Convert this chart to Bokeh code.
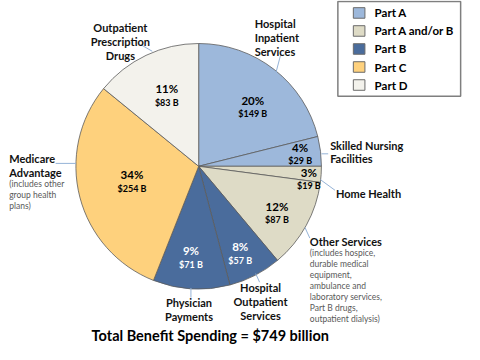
import math
from bokeh.plotting import figure
from bokeh.models import Range1d, ColumnDataSource
from bokeh.core.properties import value
from bokeh.embed import file_html
from bokeh.resources import INLINE

# ---------------- data ----------------
categories = ["Hospital Inpatient Services", "Skilled Nursing Facilities", "Home Health",
              "Other Services", "Hospital Outpatient Services", "Physician Payments",
              "Medicare Advantage", "Outpatient Prescription Drugs"]
spending_b = [149, 29, 19, 87, 57, 71, 254, 83]
pct_labels = ["20%", "4%", "3%", "12%", "8%", "9%", "34%", "11%"]
# share of the circle as drawn in the picture (percent)
slice_share = [21.1, 3.9, 2.1, 11.8, 7.0, 10.1, 29.9, 14.1]
slice_part = ["Part A", "Part A", "Part A and/or B", "Part A and/or B",
              "Part B", "Part B", "Part C", "Part D"]
parts = ["Part A", "Part A and/or B", "Part B", "Part C", "Part D"]
part_colors = ["#9DB8DB", "#DEDBC6", "#4A6C9C", "#FED17D", "#F3F2EC"]
total_b = 749

# ---------------- layout (reference pixel coords, y down) ----------------
Y0, Y1 = 2.0, 361.0
def Y(v):
    return 360.0 - v

CX, CY, R = 205.0, 175.0, 127.0
FONT = value("Lato")

p = figure(width=464, height=344, x_range=Range1d(0, 480), y_range=Range1d(Y(Y1), Y(Y0)),
           output_backend="svg", toolbar_location=None, min_border=0)
p.axis.visible = False
p.grid.visible = False
p.outline_line_color = None
p.background_fill_color = "white"

# wedges
color_of = dict(zip(parts, part_colors))
tot = sum(slice_share)
starts, ends = [], []
cum = 0.0
for s in slice_share:
    starts.append(math.pi / 2 - 2 * math.pi * cum / tot)
    cum += s
    ends.append(math.pi / 2 - 2 * math.pi * cum / tot)
wsrc = ColumnDataSource(dict(x=[CX] * len(categories), y=[Y(CY)] * len(categories),
                             s=starts, e=ends,
                             c=[color_of[pt] for pt in slice_part]))
p.wedge(x="x", y="y", radius=R, start_angle="s", end_angle="e", direction="clock",
        fill_color="c", line_color="#5c5c5c", line_width=0.8, source=wsrc)

# inner labels
inner_pos = [(261, 106), (310, 155), (319, 181), (286, 217), (248, 259), (197, 263), (136, 184), (172, 94)]
inner_col = ["black", "black", "black", "black", "white", "white", "black", "black"]
p.text(x=[q[0] for q in inner_pos], y=[Y(q[1]) for q in inner_pos], text=pct_labels,
       text_align="center", text_baseline="middle", text_font=FONT, text_font_style="bold",
       text_font_size=value("11.5px"), text_color=inner_col)
p.text(x=[q[0] for q in inner_pos], y=[Y(q[1] + 14) for q in inner_pos],
       text=["$%d B" % v for v in spending_b],
       text_align="center", text_baseline="middle", text_font=FONT, text_font_style="bold",
       text_font_size=value("9px"), text_color=inner_col)

# leader lines
leaders = [(290, 58, 285, 77), (332, 162, 339, 162), (331, 189, 346, 200), (315, 239, 320, 250),
           (264, 287, 268, 296), (197, 302, 197, 312), (57, 172, 78, 172), (145, 48, 157, 55)]
p.segment(x0=[l[0] for l in leaders], y0=[Y(l[1]) for l in leaders],
          x1=[l[2] for l in leaders], y1=[Y(l[3]) for l in leaders],
          line_color="#95B3D7", line_width=1)

# category labels (bold)
def lab(lines, x, y0, dy, align):
    p.text(x=[x] * len(lines), y=[Y(y0 + i * dy) for i in range(len(lines))], text=lines,
           text_align=align, text_baseline="middle", text_font=FONT, text_font_style="bold",
           text_font_size=value("11px"), text_color="#111111")

def note(lines, x, y0, dy):
    p.text(x=[x] * len(lines), y=[Y(y0 + i * dy) for i in range(len(lines))], text=lines,
           text_align="left", text_baseline="middle", text_font=FONT,
           text_font_size=value("8.5px"), text_color="#595959")

lab(["Hospital", "Inpatient", "Services"], 263, 26, 14.5, "left")
lab(["Skilled Nursing", "Facilities"], 341, 153, 14, "left")
lab(["Home Health"], 347, 203, 14, "left")
lab(["Other Services"], 320, 254, 14, "left")
note(["(includes hospice,", "durable medical", "equipment,", "ambulance and",
      "laboratory services,", "Part B drugs,", "outpatient dialysis)"], 320, 265.5, 11.4)
lab(["Hospital", "Outpatient", "Services"], 269, 302, 14.5, "center")
lab(["Physician", "Payments"], 195, 317, 15, "center")
lab(["Medicare", "Advantage"], 9, 167, 15, "left")
note(["(includes other", "group health", "plans)"], 9, 194, 11.4)
lab(["Outpatient", "Prescription", "Drugs"], 124, 30, 14.5, "center")

# title
p.text(x=[217], y=[Y(351.5)], text=["Total Benefit Spending = $%d billion" % total_b],
       text_align="center", text_baseline="middle", text_font=FONT, text_font_style="bold",
       text_font_size=value("14.5px"), text_color="black")

# legend
p.quad(left=[349], right=[476], top=[Y(3)], bottom=[Y(102)], fill_color="white",
       line_color="#7f7f7f", line_width=1.5)
ly = [15 + i * 18.8 for i in range(len(parts))]
p.rect(x=[371] * len(parts), y=[Y(v) for v in ly], width=12, height=11,
       fill_color=part_colors, line_color="#6a6a6a", line_width=1)
p.text(x=[387] * len(parts), y=[Y(v) for v in ly], text=parts, text_align="left",
       text_baseline="middle", text_font=FONT, text_font_style="bold",
       text_font_size=value("11.5px"), text_color="black")

open("out.html", "w").write(file_html(p, INLINE))
